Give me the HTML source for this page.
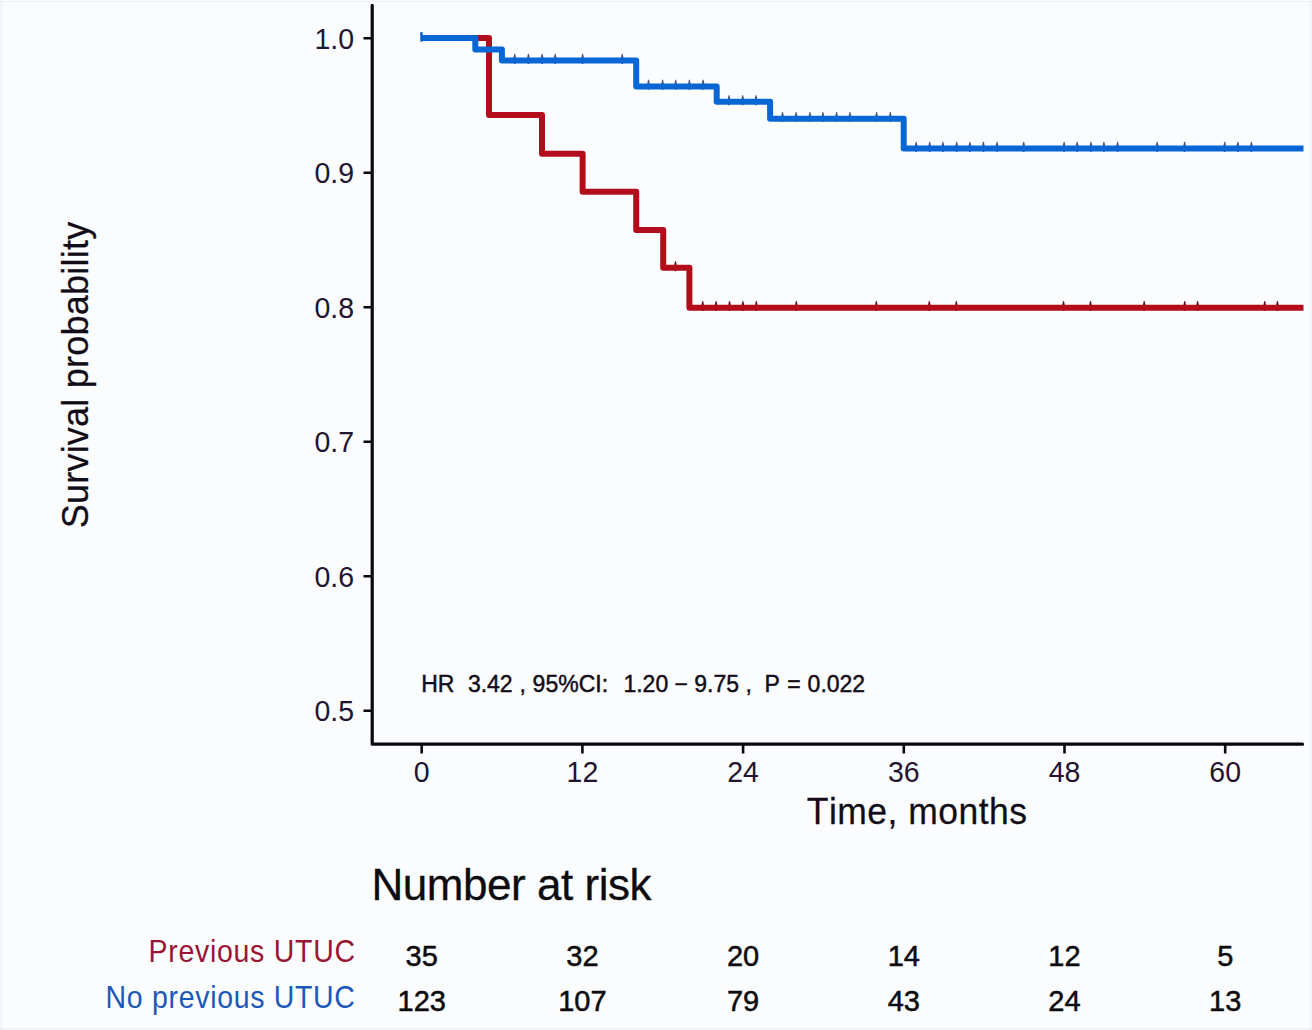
<!DOCTYPE html>
<html><head><meta charset="utf-8"><title>Kaplan-Meier</title>
<style>
html,body{margin:0;padding:0;background:#fbfcfe;}
body{width:1312px;height:1030px;overflow:hidden;}
svg{display:block;font-kerning:none;font-family:"Liberation Sans",Arial,sans-serif;}
.tk{font-size:28.5px;fill:#221532;}
.ttl{font-size:36px;fill:#120c18;stroke:#120c18;stroke-width:0.25px;}
.hr{font-size:23px;fill:#120c18;stroke:#120c18;stroke-width:0.45px;}
.nar{font-size:44px;fill:#0c0c0e;stroke:#0c0c0e;stroke-width:0.3px;}
.lab{font-size:28.5px;}
.num{font-size:29px;fill:#0c0c0e;stroke:#0c0c0e;stroke-width:0.5px;}
</style></head><body>
<svg width="1312" height="1030" viewBox="0 0 1312 1030">
<rect x="0" y="0" width="1312" height="1030" fill="#fbfcfe"/>
<path d="M0 1.5 H1312 M1310.8 0 V1030 M0 1028.6 H1312 M1.2 0 V1030" stroke="#eeeff2" stroke-width="1.2" fill="none"/>
<path d="M372.2 5.3 V744.2 H1302.5" fill="none" stroke="#0b0710" stroke-width="3.2" stroke-linecap="round" stroke-linejoin="round"/>
<path d="M363.5 38.3 H372.2 M363.5 172.8 H372.2 M363.5 307.3 H372.2 M363.5 441.8 H372.2 M363.5 576.3 H372.2 M363.5 710.8 H372.2" stroke="#0b0710" stroke-width="2.6" fill="none"/>
<path d="M421.7 744.2 V753.5 M582.4 744.2 V753.5 M743.1 744.2 V753.5 M903.8 744.2 V753.5 M1064.5 744.2 V753.5 M1225.2 744.2 V753.5" stroke="#0b0710" stroke-width="2.6" fill="none"/>
<path d="M674 266.3 L674.95 261.4 Q675.5 260.6 676.05 261.4 L677 266.3 L676.27 271.2 L674.73 271.2 Z M701.2 306.2 L702.15 301.3 Q702.7 300.5 703.25 301.3 L704.2 306.2 L703.47 311.1 L701.93 311.1 Z M714.6 306.2 L715.55 301.3 Q716.1 300.5 716.65 301.3 L717.6 306.2 L716.87 311.1 L715.33 311.1 Z M728 306.2 L728.95 301.3 Q729.5 300.5 730.05 301.3 L731 306.2 L730.27 311.1 L728.73 311.1 Z M741.4 306.2 L742.35 301.3 Q742.9 300.5 743.45 301.3 L744.4 306.2 L743.67 311.1 L742.13 311.1 Z M754.8 306.2 L755.75 301.3 Q756.3 300.5 756.85 301.3 L757.8 306.2 L757.07 311.1 L755.53 311.1 Z M794.8 306.2 L795.75 301.3 Q796.3 300.5 796.85 301.3 L797.8 306.2 L797.07 311.1 L795.53 311.1 Z M874.8 306.2 L875.75 301.3 Q876.3 300.5 876.85 301.3 L877.8 306.2 L877.07 311.1 L875.53 311.1 Z M927.8 306.2 L928.75 301.3 Q929.3 300.5 929.85 301.3 L930.8 306.2 L930.07 311.1 L928.53 311.1 Z M954.8 306.2 L955.75 301.3 Q956.3 300.5 956.85 301.3 L957.8 306.2 L957.07 311.1 L955.53 311.1 Z M1062 306.2 L1062.95 301.3 Q1063.5 300.5 1064.05 301.3 L1065 306.2 L1064.27 311.1 L1062.73 311.1 Z M1089 306.2 L1089.95 301.3 Q1090.5 300.5 1091.05 301.3 L1092 306.2 L1091.27 311.1 L1089.73 311.1 Z M1142.7 306.2 L1143.65 301.3 Q1144.2 300.5 1144.75 301.3 L1145.7 306.2 L1144.97 311.1 L1143.43 311.1 Z M1183.2 306.2 L1184.15 301.3 Q1184.7 300.5 1185.25 301.3 L1186.2 306.2 L1185.47 311.1 L1183.93 311.1 Z M1196.1 306.2 L1197.05 301.3 Q1197.6 300.5 1198.15 301.3 L1199.1 306.2 L1198.37 311.1 L1196.83 311.1 Z M1263.2 306.2 L1264.15 301.3 Q1264.7 300.5 1265.25 301.3 L1266.2 306.2 L1265.47 311.1 L1263.93 311.1 Z M1275.9 306.2 L1276.85 301.3 Q1277.4 300.5 1277.95 301.3 L1278.9 306.2 L1278.17 311.1 L1276.63 311.1 Z" fill="#5e1222"/>
<path d="M421.7 38 H489 V115 H542 V153.7 H582.6 V191.8 H636.2 V230.1 H663.2 V267.8 H689.4 V307.7 H1303.5" fill="none" stroke="#b30d1b" stroke-width="6.0" stroke-linejoin="round" stroke-linecap="butt"/>
<path d="M513.2 59 L514.15 54.1 Q514.7 53.3 515.25 54.1 L516.2 59 L515.47 63.9 L513.93 63.9 Z M526.9 59 L527.85 54.1 Q528.4 53.3 528.95 54.1 L529.9 59 L529.17 63.9 L527.63 63.9 Z M540.6 59 L541.55 54.1 Q542.1 53.3 542.65 54.1 L543.6 59 L542.87 63.9 L541.33 63.9 Z M553.7 59 L554.65 54.1 Q555.2 53.3 555.75 54.1 L556.7 59 L555.97 63.9 L554.43 63.9 Z M581.1 59 L582.05 54.1 Q582.6 53.3 583.15 54.1 L584.1 59 L583.37 63.9 L581.83 63.9 Z M620.7 59 L621.65 54.1 Q622.2 53.3 622.75 54.1 L623.7 59 L622.97 63.9 L621.43 63.9 Z M647 84.9 L647.95 80 Q648.5 79.2 649.05 80 L650 84.9 L649.27 89.8 L647.73 89.8 Z M661.1 84.9 L662.05 80 Q662.6 79.2 663.15 80 L664.1 84.9 L663.37 89.8 L661.83 89.8 Z M674.2 84.9 L675.15 80 Q675.7 79.2 676.25 80 L677.2 84.9 L676.47 89.8 L674.93 89.8 Z M687.9 84.9 L688.85 80 Q689.4 79.2 689.95 80 L690.9 84.9 L690.17 89.8 L688.63 89.8 Z M701.6 84.9 L702.55 80 Q703.1 79.2 703.65 80 L704.6 84.9 L703.87 89.8 L702.33 89.8 Z M727.5 100.3 L728.45 95.4 Q729 94.6 729.55 95.4 L730.5 100.3 L729.77 105.2 L728.23 105.2 Z M741.2 100.3 L742.15 95.4 Q742.7 94.6 743.25 95.4 L744.2 100.3 L743.47 105.2 L741.93 105.2 Z M754.5 100.3 L755.45 95.4 Q756 94.6 756.55 95.4 L757.5 100.3 L756.77 105.2 L755.23 105.2 Z M781 117.2 L781.95 112.3 Q782.5 111.5 783.05 112.3 L784 117.2 L783.27 122.1 L781.73 122.1 Z M794.6 117.2 L795.55 112.3 Q796.1 111.5 796.65 112.3 L797.6 117.2 L796.87 122.1 L795.33 122.1 Z M808.4 117.2 L809.35 112.3 Q809.9 111.5 810.45 112.3 L811.4 117.2 L810.67 122.1 L809.13 122.1 Z M821.4 117.2 L822.35 112.3 Q822.9 111.5 823.45 112.3 L824.4 117.2 L823.67 122.1 L822.13 122.1 Z M835.1 117.2 L836.05 112.3 Q836.6 111.5 837.15 112.3 L838.1 117.2 L837.37 122.1 L835.83 122.1 Z M848.4 117.2 L849.35 112.3 Q849.9 111.5 850.45 112.3 L851.4 117.2 L850.67 122.1 L849.13 122.1 Z M875.1 117.2 L876.05 112.3 Q876.6 111.5 877.15 112.3 L878.1 117.2 L877.37 122.1 L875.83 122.1 Z M888.8 117.2 L889.75 112.3 Q890.3 111.5 890.85 112.3 L891.8 117.2 L891.07 122.1 L889.53 122.1 Z M914.7 147 L915.65 142.1 Q916.2 141.3 916.75 142.1 L917.7 147 L916.97 151.9 L915.43 151.9 Z M928.2 147 L929.15 142.1 Q929.7 141.3 930.25 142.1 L931.2 147 L930.47 151.9 L928.93 151.9 Z M941.4 147 L942.35 142.1 Q942.9 141.3 943.45 142.1 L944.4 147 L943.67 151.9 L942.13 151.9 Z M955.2 147 L956.15 142.1 Q956.7 141.3 957.25 142.1 L958.2 147 L957.47 151.9 L955.93 151.9 Z M968.4 147 L969.35 142.1 Q969.9 141.3 970.45 142.1 L971.4 147 L970.67 151.9 L969.13 151.9 Z M981.9 147 L982.85 142.1 Q983.4 141.3 983.95 142.1 L984.9 147 L984.17 151.9 L982.63 151.9 Z M995.6 147 L996.55 142.1 Q997.1 141.3 997.65 142.1 L998.6 147 L997.87 151.9 L996.33 151.9 Z M1022.2 147 L1023.15 142.1 Q1023.7 141.3 1024.25 142.1 L1025.2 147 L1024.47 151.9 L1022.93 151.9 Z M1062.6 147 L1063.55 142.1 Q1064.1 141.3 1064.65 142.1 L1065.6 147 L1064.87 151.9 L1063.33 151.9 Z M1075.7 147 L1076.65 142.1 Q1077.2 141.3 1077.75 142.1 L1078.7 147 L1077.97 151.9 L1076.43 151.9 Z M1089.4 147 L1090.35 142.1 Q1090.9 141.3 1091.45 142.1 L1092.4 147 L1091.67 151.9 L1090.13 151.9 Z M1102.4 147 L1103.35 142.1 Q1103.9 141.3 1104.45 142.1 L1105.4 147 L1104.67 151.9 L1103.13 151.9 Z M1116.1 147 L1117.05 142.1 Q1117.6 141.3 1118.15 142.1 L1119.1 147 L1118.37 151.9 L1116.83 151.9 Z M1155.7 147 L1156.65 142.1 Q1157.2 141.3 1157.75 142.1 L1158.7 147 L1157.97 151.9 L1156.43 151.9 Z M1183.1 147 L1184.05 142.1 Q1184.6 141.3 1185.15 142.1 L1186.1 147 L1185.37 151.9 L1183.83 151.9 Z M1223.2 147 L1224.15 142.1 Q1224.7 141.3 1225.25 142.1 L1226.2 147 L1225.47 151.9 L1223.93 151.9 Z M1236.4 147 L1237.35 142.1 Q1237.9 141.3 1238.45 142.1 L1239.4 147 L1238.67 151.9 L1237.13 151.9 Z M1249.9 147 L1250.85 142.1 Q1251.4 141.3 1251.95 142.1 L1252.9 147 L1252.17 151.9 L1250.63 151.9 Z" fill="#475683"/>
<path d="M421.7 38 H475.3 V49.6 H501.9 V60.5 H636.2 V86.4 H716.7 V101.8 H770.1 V118.7 H903.7 V148.5 H1303.5" fill="none" stroke="#0867d4" stroke-width="6.0" stroke-linejoin="round" stroke-linecap="butt"/>
<rect x="420.2" y="32" width="2.5" height="9.8" rx="0.8" fill="#1062c8"/>
<text transform="translate(354 48.6) scale(1 1.05)" text-anchor="end" class="tk">1.0</text>
<text transform="translate(354 183.1) scale(1 1.05)" text-anchor="end" class="tk">0.9</text>
<text transform="translate(354 317.6) scale(1 1.05)" text-anchor="end" class="tk">0.8</text>
<text transform="translate(354 452.1) scale(1 1.05)" text-anchor="end" class="tk">0.7</text>
<text transform="translate(354 586.6) scale(1 1.05)" text-anchor="end" class="tk">0.6</text>
<text transform="translate(354 721.1) scale(1 1.05)" text-anchor="end" class="tk">0.5</text>
<text transform="translate(421.7 782.2) scale(1 1.05)" text-anchor="middle" class="tk">0</text>
<text transform="translate(582.4 782.2) scale(1 1.05)" text-anchor="middle" class="tk">12</text>
<text transform="translate(743.1 782.2) scale(1 1.05)" text-anchor="middle" class="tk">24</text>
<text transform="translate(903.8 782.2) scale(1 1.05)" text-anchor="middle" class="tk">36</text>
<text transform="translate(1064.5 782.2) scale(1 1.05)" text-anchor="middle" class="tk">48</text>
<text transform="translate(1225.2 782.2) scale(1 1.05)" text-anchor="middle" class="tk">60</text>
<text transform="translate(806.8 824.2) scale(1 1.04)" textLength="220.3" lengthAdjust="spacing" class="ttl" style="font-size:35.5px">Time, months</text>
<text transform="translate(88.2 528.3) rotate(-90)" x="0" y="0" textLength="306.5" lengthAdjust="spacing" class="ttl">Survival probability</text>
<text y="691.6" class="hr"><tspan x="421.2">HR</tspan><tspan x="467.9">3.42</tspan><tspan x="519.5">,</tspan><tspan x="532.6">95%CI:</tspan><tspan x="623.45">1.20</tspan><tspan x="674.6">−</tspan><tspan x="694.3">9.75</tspan><tspan x="745.4">,</tspan><tspan x="764.5">P</tspan><tspan x="787.3">=</tspan><tspan x="807.6">0.022</tspan></text>
<text x="371.5" y="900" textLength="280" lengthAdjust="spacing" class="nar">Number at risk</text>
<text transform="translate(148.5 962.4) scale(1 1.07)" textLength="206.5" lengthAdjust="spacing" class="lab" fill="#9a1534">Previous UTUC</text>
<text transform="translate(105.6 1007.5) scale(1 1.07)" textLength="249.3" lengthAdjust="spacing" class="lab" fill="#1b58ba">No previous UTUC</text>
<text x="421.7" y="966" text-anchor="middle" class="num">35</text>
<text x="421.7" y="1010.5" text-anchor="middle" class="num">123</text>
<text x="582.4" y="966" text-anchor="middle" class="num">32</text>
<text x="582.4" y="1010.5" text-anchor="middle" class="num">107</text>
<text x="743.1" y="966" text-anchor="middle" class="num">20</text>
<text x="743.1" y="1010.5" text-anchor="middle" class="num">79</text>
<text x="903.8" y="966" text-anchor="middle" class="num">14</text>
<text x="903.8" y="1010.5" text-anchor="middle" class="num">43</text>
<text x="1064.5" y="966" text-anchor="middle" class="num">12</text>
<text x="1064.5" y="1010.5" text-anchor="middle" class="num">24</text>
<text x="1225.2" y="966" text-anchor="middle" class="num">5</text>
<text x="1225.2" y="1010.5" text-anchor="middle" class="num">13</text>
</svg>
</body></html>
